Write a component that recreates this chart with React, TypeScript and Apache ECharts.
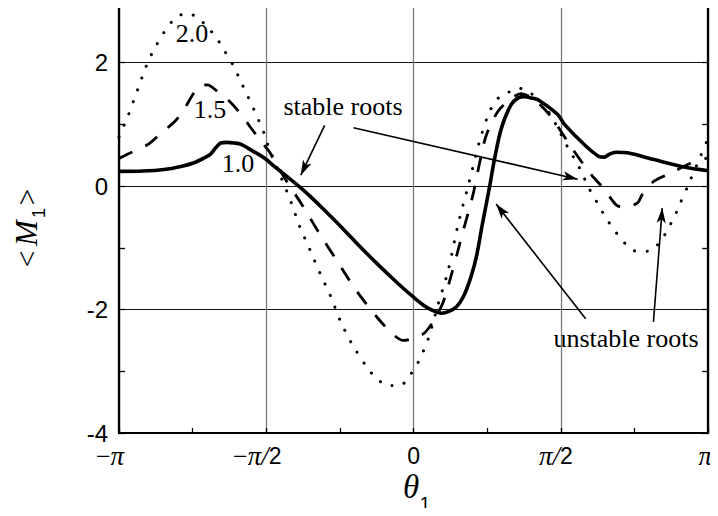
import React, { useEffect, useRef } from "react";
import * as echarts from "echarts";

// θ1 is stored in units of π; <M1> on the vertical axis.
const curve10X = [-1.0, -0.92, -0.847, -0.79, -0.745, -0.71, -0.689, -0.672, -0.655, -0.633, -0.61, -0.587, -0.55, -0.508, -0.47, -0.431, -0.39, -0.35, -0.311, -0.25, -0.198, -0.153, -0.119, -0.086, -0.041, 0.0, 0.04, 0.072, 0.095, 0.12, 0.145, 0.17, 0.196, 0.215, 0.232, 0.247, 0.26, 0.275, 0.298, 0.331, 0.355, 0.377, 0.4, 0.422, 0.489, 0.512, 0.58, 0.63, 0.647, 0.665, 0.687, 0.726, 0.816, 0.918, 1.0];
const curve10Y = [0.24, 0.245, 0.27, 0.32, 0.38, 0.46, 0.52, 0.62, 0.7, 0.71, 0.7, 0.68, 0.58, 0.46, 0.31, 0.16, 0.0, -0.17, -0.35, -0.64, -0.9, -1.12, -1.28, -1.43, -1.63, -1.8, -1.95, -2.03, -2.06, -2.03, -1.96, -1.78, -1.45, -1.1, -0.65, -0.28, 0.05, 0.45, 0.94, 1.32, 1.43, 1.45, 1.43, 1.4, 1.16, 1.0, 0.67, 0.48, 0.47, 0.52, 0.55, 0.54, 0.43, 0.31, 0.25];

const curve15X = [-1.0, -0.97, -0.9, -0.86, -0.81, -0.78, -0.75, -0.73, -0.7, -0.67, -0.63, -0.59, -0.55, -0.51, -0.49, -0.435, -0.379, -0.322, -0.26, -0.198, -0.125, -0.07, -0.035, -0.012, 0.039, 0.095, 0.129, 0.168, 0.202, 0.225, 0.247, 0.286, 0.331, 0.365, 0.41, 0.467, 0.534, 0.602, 0.647, 0.687, 0.715, 0.76, 0.777, 0.816, 0.873, 0.94, 1.0];
const curve15Y = [0.45, 0.52, 0.68, 0.85, 1.05, 1.24, 1.48, 1.62, 1.64, 1.55, 1.4, 1.19, 0.93, 0.68, 0.56, 0.11, -0.3, -0.75, -1.21, -1.67, -2.12, -2.4, -2.5, -2.48, -2.37, -1.94, -1.42, -0.73, -0.13, 0.4, 0.83, 1.21, 1.42, 1.5, 1.4, 1.12, 0.64, 0.19, -0.05, -0.3, -0.35, -0.27, -0.13, 0.08, 0.21, 0.37, 0.46];

const curve20X = [-1.0, -0.97, -0.937, -0.908, -0.886, -0.846, -0.813, -0.773, -0.739, -0.7, -0.666, -0.643, -0.615, -0.581, -0.542, -0.508, -0.491, -0.449, -0.415, -0.387, -0.353, -0.317, -0.283, -0.249, -0.21, -0.159, -0.125, -0.086, -0.046, -0.012, 0.016, 0.05, 0.083, 0.117, 0.151, 0.185, 0.224, 0.258, 0.286, 0.315, 0.354, 0.399, 0.44, 0.489, 0.506, 0.528, 0.551, 0.574, 0.591, 0.614, 0.636, 0.659, 0.687, 0.72, 0.76, 0.8, 0.839, 0.862, 0.884, 0.901, 0.935, 0.969, 1.0];
const curve20Y = [0.8, 1.13, 1.56, 1.94, 2.17, 2.5, 2.7, 2.8, 2.75, 2.58, 2.38, 2.2, 1.98, 1.64, 1.24, 0.86, 0.62, 0.13, -0.27, -0.65, -1.02, -1.42, -1.77, -2.18, -2.55, -2.93, -3.12, -3.23, -3.23, -3.06, -2.85, -2.47, -1.92, -1.37, -0.62, 0.0, 0.73, 1.21, 1.42, 1.5, 1.59, 1.5, 1.33, 0.95, 0.78, 0.59, 0.4, 0.19, 0.0, -0.19, -0.38, -0.56, -0.75, -0.94, -1.06, -1.05, -0.89, -0.7, -0.51, -0.32, 0.05, 0.43, 0.78];

// Curve captions
const curveNames = ["1.0", "1.5", "2.0"];

// Tick labels along θ1 (units of π)
const thetaTicks = [-1, -0.5, 0, 0.5, 1];
const thetaTickText = ["{m|−}{p|π}{g9|}", "{m|−}{p|π/}{s|2}{g9|}", "{s|0}", "{p|π/}{s|2}{g5|}", "{p|π}{g3|}"];
const mTicks = [-4, -2, 0, 2];

// Arrows pointing at the roots: [fromθ, fromM, toθ, toM]
const stableArrows = [
  [-0.302, 0.986, -0.383, 0.178],
  [-0.204, 0.946, 0.557, 0.113],
];
const unstableArrows = [
  [0.584, -2.15, 0.28, -0.291],
  [0.814, -2.2, 0.844, -0.356],
];

const zip = (xs: number[], ys: number[]) => xs.map((x, i) => [x, ys[i]]);

const SERIF = "'Liberation Serif', 'Times New Roman', serif";
const SANS = "'Liberation Sans', Arial, sans-serif";

export default function App() {
  const ref = useRef<HTMLDivElement>(null);

  useEffect(() => {
    if (!ref.current) return;
    const chart = echarts.init(ref.current, null, { renderer: "svg" });

    const arrowLines = [...stableArrows, ...unstableArrows].map((a) => [
      { coord: [a[0], a[1]], symbol: "none" },
      { coord: [a[2], a[3]], symbol: "arrow", symbolSize: [7, 15] },
    ]);

    const gap = (w: number) => ({ width: w, height: 1 });

    chart.setOption({
      animation: false,
      backgroundColor: "#ffffff",
      grid: { left: 119, right: 7, top: 1, bottom: 83, containLabel: false },
      xAxis: [
        {
          type: "value",
          min: -1,
          max: 1,
          interval: 0.25,
          position: "bottom",
          axisLine: { show: true, onZero: false, lineStyle: { color: "#000", width: 2 } },
          axisTick: { show: true, inside: true, length: 5, lineStyle: { color: "#000", width: 1.3 } },
          splitLine: {
            show: true,
            lineStyle: { color: ["#7a7a7a", "rgba(0,0,0,0)"], width: 1.3 },
          },
          axisLabel: {
            margin: 12,
            formatter: (v: number) => {
              const i = thetaTicks.indexOf(v);
              return i >= 0 ? thetaTickText[i] : "";
            },
            rich: {
              m: { fontFamily: SERIF, fontSize: 26, color: "#000", lineHeight: 22 },
              p: { fontFamily: SERIF, fontStyle: "italic", fontSize: 27, color: "#000", lineHeight: 22 },
              s: { fontFamily: SANS, fontSize: 23, color: "#000", lineHeight: 22 },
              g9: gap(18),
              g5: gap(10),
              g3: gap(6),
            },
          },
        },
        {
          type: "value",
          min: -1,
          max: 1,
          interval: 0.25,
          position: "top",
          axisLine: { show: true, onZero: false, lineStyle: { color: "#333", width: 1.3 } },
          axisTick: { show: true, inside: true, length: 5, lineStyle: { color: "#000", width: 1.3 } },
          splitLine: { show: false },
          axisLabel: { show: false },
        },
      ],
      yAxis: [
        {
          type: "value",
          min: -4,
          max: 3,
          interval: 1,
          position: "left",
          axisLine: { show: true, onZero: false, lineStyle: { color: "#000", width: 2.3 } },
          axisTick: { show: true, inside: true, length: 6, lineStyle: { color: "#000", width: 1.3 } },
          splitLine: {
            show: true,
            lineStyle: { color: ["#111", "rgba(0,0,0,0)"], width: 1.1 },
          },
          axisLabel: {
            margin: 11,
            fontFamily: SANS,
            fontSize: 24,
            lineHeight: 18,
            color: "#000",
            formatter: (v: number) => (mTicks.indexOf(v) >= 0 ? String(v) : ""),
          },
        },
        {
          type: "value",
          min: -4,
          max: 3,
          interval: 1,
          position: "right",
          axisLine: { show: true, onZero: false, lineStyle: { color: "#000", width: 2.3 } },
          axisTick: { show: true, inside: true, length: 6, lineStyle: { color: "#000", width: 1.3 } },
          splitLine: { show: false },
          axisLabel: { show: false },
        },
      ],
      series: [
        {
          name: curveNames[0],
          type: "line",
          data: zip(curve10X, curve10Y),
          smooth: 0.3,
          showSymbol: false,
          symbol: "none",
          silent: true,
          z: 5,
          lineStyle: { color: "#000", width: 3.6, type: "solid" },
          markLine: {
            silent: true,
            symbol: ["none", "arrow"],
            label: { show: false },
            lineStyle: { color: "#000", width: 1.6, type: "solid" },
            data: arrowLines,
          },
        },
        {
          name: curveNames[1],
          type: "line",
          data: zip(curve15X, curve15Y),
          smooth: 0.3,
          showSymbol: false,
          symbol: "none",
          silent: true,
          z: 4,
          lineStyle: { color: "#000", width: 2.8, type: [15, 14] },
        },
        {
          name: curveNames[2],
          type: "line",
          data: zip(curve20X, curve20Y),
          smooth: 0.3,
          showSymbol: false,
          symbol: "none",
          silent: true,
          z: 3,
          lineStyle: { color: "#000", width: 3, type: [0.1, 12.5], cap: "round" },
        },
      ],
      graphic: [
        {
          type: "text",
          x: 192,
          y: 33,
          style: { text: curveNames[2], font: `26px ${SERIF}`, fill: "#000", align: "center", verticalAlign: "middle" },
        },
        {
          type: "text",
          x: 210,
          y: 109,
          style: { text: curveNames[1], font: `26px ${SERIF}`, fill: "#000", align: "center", verticalAlign: "middle" },
        },
        {
          type: "text",
          x: 238,
          y: 163,
          style: { text: curveNames[0], font: `26px ${SERIF}`, fill: "#000", align: "center", verticalAlign: "middle" },
        },
        {
          type: "text",
          x: 343,
          y: 106,
          style: { text: "stable roots", font: `26px ${SERIF}`, fill: "#000", align: "center", verticalAlign: "middle" },
        },
        {
          type: "text",
          x: 626,
          y: 338,
          style: { text: "unstable roots", font: `26px ${SERIF}`, fill: "#000", align: "center", verticalAlign: "middle" },
        },
        // horizontal axis title θ1
        {
          type: "text",
          x: 411,
          y: 487,
          style: { text: "θ", font: `italic 33px ${SERIF}`, fill: "#000", align: "center", verticalAlign: "middle" },
        },
        {
          type: "text",
          x: 425,
          y: 503,
          style: { text: "1", font: `19px ${SANS}`, fill: "#000", align: "center", verticalAlign: "middle" },
        },
        // vertical axis title <M1>
        {
          type: "group",
          x: 26,
          y: 229,
          rotation: Math.PI / 2,
          children: [
            {
              type: "text",
              x: -30,
              y: 0,
              style: { text: "<", font: `30px ${SERIF}`, fill: "#000", align: "center", verticalAlign: "middle" },
            },
            {
              type: "text",
              x: -4,
              y: 0,
              style: { text: "M", font: `italic 31px ${SERIF}`, fill: "#000", align: "center", verticalAlign: "middle" },
            },
            {
              type: "text",
              x: 16,
              y: 13,
              style: { text: "1", font: `18px ${SANS}`, fill: "#000", align: "center", verticalAlign: "middle" },
            },
            {
              type: "text",
              x: 32,
              y: 0,
              style: { text: ">", font: `30px ${SERIF}`, fill: "#000", align: "center", verticalAlign: "middle" },
            },
          ],
        },
      ],
    });

    return () => chart.dispose();
  }, []);

  return <div ref={ref} style={{ width: 718, height: 516, margin: -8 }} />;
}
